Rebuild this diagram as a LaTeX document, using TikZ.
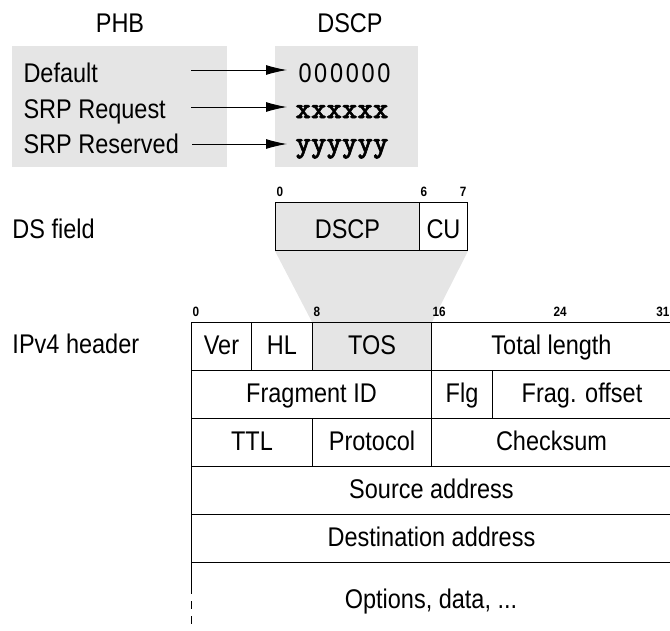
\documentclass[tikz,border=0pt]{standalone}
\usepackage{fontspec}
\setmainfont{Liberation Sans}[FakeStretch=0.87]
\newfontfamily\codefont{lmmonolt10-bold.otf}[FakeBold=2]
\usetikzlibrary{arrows.meta,positioning,backgrounds}

\begin{document}
\begin{tikzpicture}[x=1pt,y=-1pt,line width=1pt,
  font=\fontsize{27}{32}\selectfont,
  lbl/.style={inner sep=0pt,anchor=base west},
  cell/.style={draw,anchor=north west,inner sep=0pt,minimum height=48pt,
    text height=15pt,text depth=0pt},
  bit/.style={inner sep=0pt,anchor=base west,font=\fontsize{13.5}{14}\selectfont\bfseries},
  val/.style={inner sep=0pt,anchor=base west,font=\fontsize{29.5}{32}\selectfont\codefont},
  map/.style={-{Latex[length=21pt,width=10pt]}},
  shade/.style={fill=black!10}]

  \useasboundingbox (0,0) rectangle (670,630);

  % PHB to DSCP mapping
  \fill[shade] (12,46) rectangle (227,167);
  \fill[shade] (275,46) rectangle (418,167);
  \node[inner sep=0pt,anchor=base] (phb) at (120,32) {PHB};
  \node[inner sep=0pt,anchor=base] (dscp) at (350,32) {DSCP};

  \node[lbl] (def) at (23,82) {Default};
  \node[lbl] (req) at (23,118) {SRP Request};
  \node[lbl] (res) at (23,153) {SRP Reserved};

  \node[lbl] (v1) at (298,82) {\addfontfeature{LetterSpace=10}000000};
  \node[val] (v2) at (295,118) {xxxxxx};
  \node[val] (v3) at (295,152) {yyyyyy};

  \coordinate (a1) at (191,70);
  \coordinate (a2) at (191,107);
  \coordinate (a3) at (192,144);
  \coordinate (b1) at (287,70);
  \coordinate (b2) at (287,107);
  \coordinate (b3) at (287,144);
  \draw[map] (a1) -- (b1);
  \draw[map] (a2) -- (b2);
  \draw[map] (a3) -- (b3);

  % DS field
  \node[lbl] (dslbl) at (12,238) {DS field};
  \node[cell,shade,text height=23pt,minimum width=144pt] (ds) at (275,202) {DSCP};
  \node[cell,text height=23pt,minimum width=48pt] (cu) at (419,202) {CU};
  \node[bit] at (276,196) {0};
  \node[bit] at (420,196) {6};
  \node[bit,anchor=base east] at (467,196) {7};

  % IPv4 header
  \node[lbl] (iplbl) at (12,353) {IPv4 header};
  \node[bit] at (192,316) {0};
  \node[bit] at (313,316) {8};
  \node[bit] at (432,316) {16};
  \node[bit] at (553,316) {24};
  \node[bit,anchor=base east] at (670,316) {31};

  \node[cell,minimum width=60pt] (ver) at (191,322) {Ver};
  \node[cell,minimum width=61pt] (hl) at (251,322) {HL};
  \node[cell,shade,minimum width=119pt] (tos) at (312,322) {TOS};
  \node[cell,minimum width=240pt] (len) at (431,322) {Total length};

  \node[cell,minimum width=240pt] (frag) at (191,370) {Fragment ID};
  \node[cell,minimum width=61pt] (flg) at (431,370) {Flg};
  \node[cell,minimum width=179pt] (off) at (492,370) {Frag. offset};

  \node[cell,minimum width=121pt] (ttl) at (191,418) {TTL};
  \node[cell,minimum width=119pt] (proto) at (312,418) {Protocol};
  \node[cell,minimum width=240pt] (chk) at (431,418) {Checksum};

  \node[cell,minimum width=480pt] (src) at (191,466) {Source address};
  \node[cell,minimum width=480pt] (dst) at (191,514) {Destination address};

  \node[inner sep=0pt,anchor=base] (opt) at (431,608) {Options, data, ...};
  \draw (dst.south west) -- ++(0,31) coordinate (cut);
  \draw[dash pattern=on 8pt off 7pt] ([yshift=-7pt]cut) -- ++(0,40);

  % DSCP bits widened onto TOS
  \begin{scope}[on background layer]
    \fill[shade] (ds.south west) -- (cu.south east) -- (tos.north east) -- (tos.north west) -- cycle;
  \end{scope}

\end{tikzpicture}
\end{document}
